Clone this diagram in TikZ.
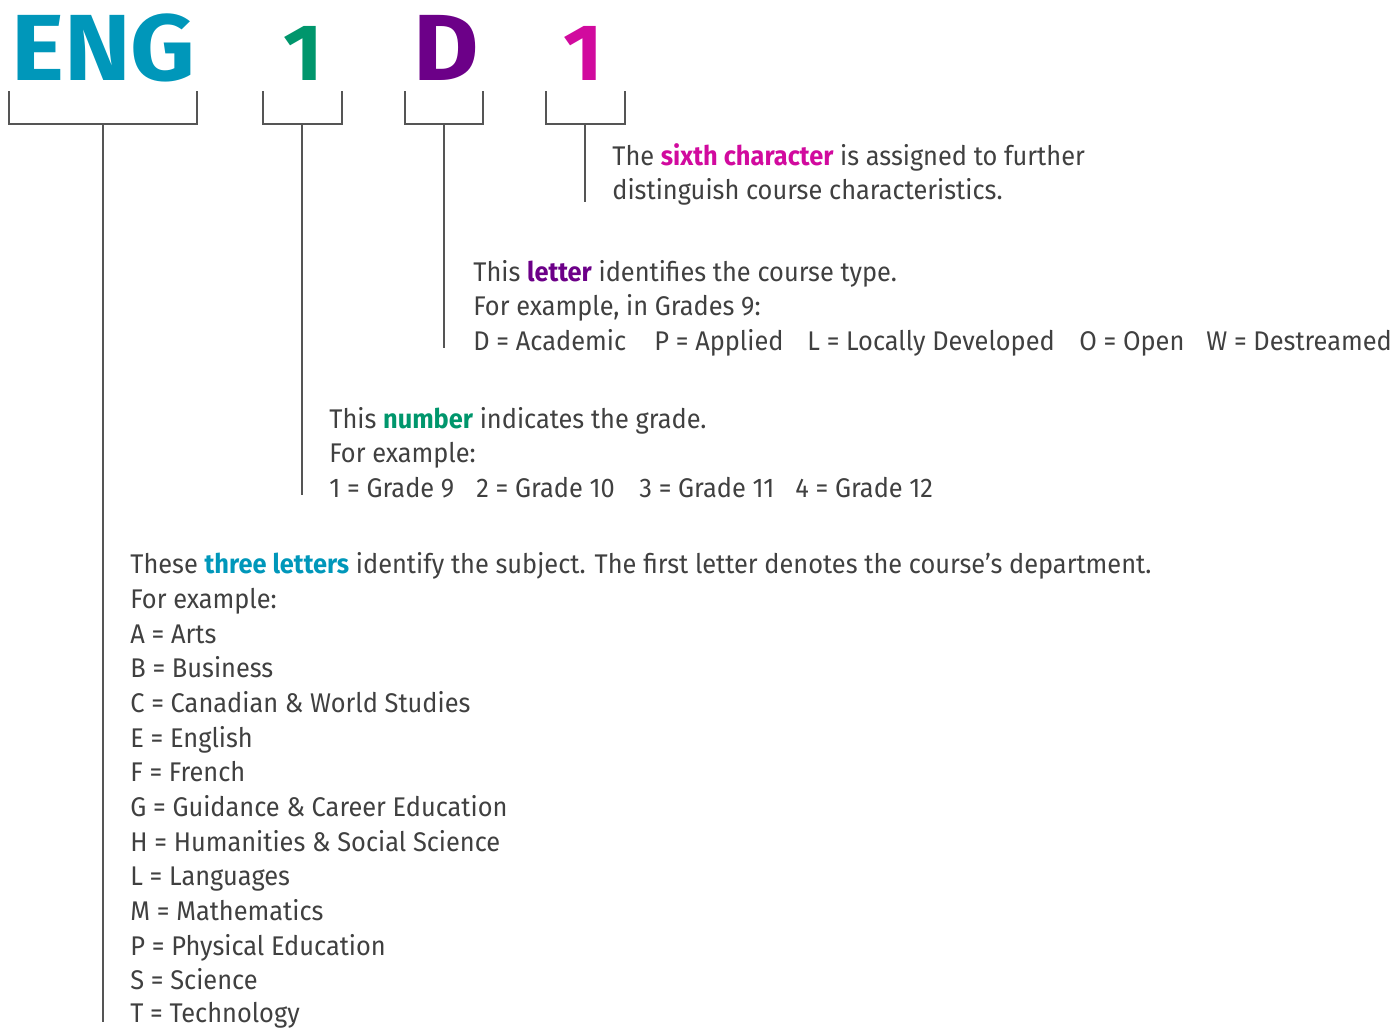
\documentclass[tikz,border=0pt]{standalone}
\usepackage{fontspec}
\setmainfont{Fira Sans}[FakeStretch=0.94]
\newfontfamily\bigfont{Fira Sans}[FakeStretch=1.07]
\definecolor{engblue}{HTML}{0097BA}
\definecolor{gradegreen}{HTML}{00966C}
\definecolor{typepurple}{HTML}{6C0088}
\definecolor{sixthpink}{HTML}{D10A9E}
\definecolor{textgrey}{HTML}{404040}
\definecolor{linegrey}{HTML}{555555}

\begin{document}
\begin{tikzpicture}[x=0.5pt,y=-0.5pt,
		code/.style={anchor=base west,inner sep=0pt,font=\bigfont\bfseries\fontsize{47}{47}\selectfont},
		digit/.style={code,font=\bigfont\bfseries\fontsize{40}{40}\selectfont},
		txt/.style={anchor=base west,inner sep=0pt,text=textgrey,font=\fontsize{13.5}{16}\selectfont},
		bracket/.style={draw=linegrey,line width=0.75pt}]
			\useasboundingbox (0,0) rectangle (1397,1028);
			% the course code
			\draw (11,80) node [code,text=engblue] (eng) {ENG};
			\draw (283,80) node [digit,text=gradegreen] (grade) {1};
			\draw (413,80) node [code,text=typepurple] (type) {D};
			\draw (563,80) node [digit,text=sixthpink] (sixth) {1};
			% bracket corners and stem ends
			\coordinate (engL) at (9,91);
			\coordinate (engR) at (197,91);
			\coordinate (engM) at (103,124);
			\coordinate (engS) at (103,1022);
			\coordinate (gradeL) at (263,91);
			\coordinate (gradeR) at (342,91);
			\coordinate (gradeM) at (302,124);
			\coordinate (gradeS) at (302,495);
			\coordinate (typeL) at (405,91);
			\coordinate (typeR) at (483,91);
			\coordinate (typeM) at (444,124);
			\coordinate (typeS) at (444,348);
			\coordinate (sixthL) at (546,91);
			\coordinate (sixthR) at (625,91);
			\coordinate (sixthM) at (585,124);
			\coordinate (sixthS) at (585,202);
			\draw[bracket] (engL) |- (engM) -| (engR) (engM) -- (engS);
			\draw[bracket] (gradeL) |- (gradeM) -| (gradeR) (gradeM) -- (gradeS);
			\draw[bracket] (typeL) |- (typeM) -| (typeR) (typeM) -- (typeS);
			\draw[bracket] (sixthL) |- (sixthM) -| (sixthR) (sixthM) -- (sixthS);
			% sixth character
			\draw (612,165) node [txt] (sixth1) {The \textcolor{sixthpink}{\bfseries sixth character} is assigned to further};
			\draw (612,199) node [txt] (sixth2) {distinguish course characteristics.};
			% course type
			\draw (473,281) node [txt] (type1) {This \textcolor{typepurple}{\bfseries letter} identifies the course type.};
			\draw (473,315) node [txt] (type2) {For example, in Grades 9:};
			\draw (473,350) node [txt] (typeD) {D = Academic};
			\draw (654,350) node [txt] (typeP) {P = Applied};
			\draw (807,350) node [txt] (typeL) {L = Locally Developed};
			\draw (1079,350) node [txt] (typeO) {O = Open};
			\draw (1206,350) node [txt] (typeW) {W = Destreamed};
			% grade
			\draw (329,428) node [txt] (grade1) {This \textcolor{gradegreen}{\bfseries number} indicates the grade.};
			\draw (329,462) node [txt] (grade2) {For example:};
			\draw (329,497) node [txt] (g9) {1 = Grade 9};
			\draw (476,497) node [txt] (g10) {2 = Grade 10};
			\draw (639,497) node [txt] (g11) {3 = Grade 11};
			\draw (795,497) node [txt] (g12) {4 = Grade 12};
			% subject
			\draw (130,573) node [txt] (eng1) {These \textcolor{engblue}{\bfseries three letters} identify the subject. The first letter denotes the course’s department.};
			\draw (130,608) node [txt] (eng2) {For example:};
			\draw (130,643) node [txt] (subA) {A = Arts};
			\draw (130,677) node [txt] (subB) {B = Business};
			\draw (130,712) node [txt] (subC) {C = Canadian \& World Studies};
			\draw (130,747) node [txt] (subE) {E = English};
			\draw (130,781) node [txt] (subF) {F = French};
			\draw (130,816) node [txt] (subG) {G = Guidance \& Career Education};
			\draw (130,851) node [txt] (subH) {H = Humanities \& Social Science};
			\draw (130,885) node [txt] (subL) {L = Languages};
			\draw (130,920) node [txt] (subM) {M = Mathematics};
			\draw (130,955) node [txt] (subP) {P = Physical Education};
			\draw (130,989) node [txt] (subS) {S = Science};
			\draw (130,1022) node [txt] (subT) {T = Technology};
		\end{tikzpicture}
\end{document}
